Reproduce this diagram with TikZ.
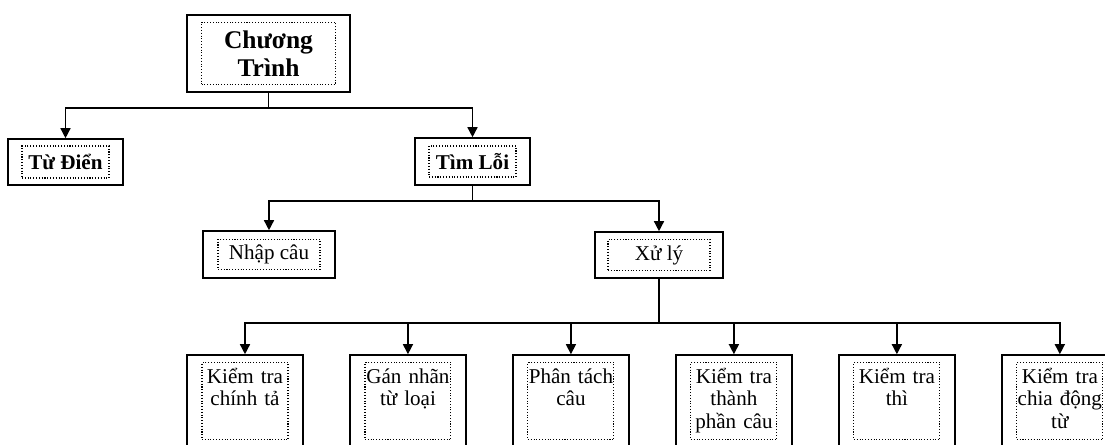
\documentclass[tikz,border=0pt]{standalone}
\usepackage{fontspec}
\setmainfont{Liberation Serif}
\usetikzlibrary{positioning}
\usetikzlibrary{arrows.meta}

\begin{document}
\begin{tikzpicture}[x=0.02cm, y=-0.02cm, line width=0.8pt,
        every node/.style = {font=\fontsize{12}{12.8}\selectfont, inner sep=0pt},
        outer/.style = {draw, line width=0.9pt},
        inner/.style = {draw, densely dotted, line width=0.6pt},
        head/.style = {font=\bfseries\fontsize{12}{14}\selectfont},
        leaf/.style = {outer, minimum width=2.32cm, minimum height=2cm, node distance=3.26cm},
        leaftext/.style = {inner, text width=1.72cm, align=center, text height=0.41cm, text depth=1.13cm},
        >={Triangle[length=0.2cm, width=0.2cm]}
        ]
        \clip (0,0) rectangle (1105,445);
        % level 0 and 1
        \node[outer, minimum width=3.26cm, minimum height=1.54cm] (1) at (268.5,53.5) {};
        \node[inner, align=center, minimum width=2.68cm, minimum height=1.24cm,
              font=\bfseries\fontsize{14.5}{16}\selectfont] (1t) at (1) {Chương\\Trình};
        \node[outer, minimum width=2.3cm, minimum height=0.92cm] (2) at (65.5,162) {};
        \node[inner, head, minimum width=1.74cm, minimum height=0.64cm] (2t) at (2) {Từ Điển};
        \node[outer, minimum width=2.3cm, minimum height=0.94cm] (3) at (472.5,161.5) {};
        \node[inner, head, minimum width=1.74cm, minimum height=0.62cm] (3t) at (3) {Tìm Lỗi};
        % level 2
        \node[outer, minimum width=2.64cm, minimum height=0.94cm] (4) at (269,254.5) {};
        \node[inner, minimum width=2.04cm, minimum height=0.6cm] (4t) at (4) {Nhập câu};
        \node[outer, minimum width=2.56cm, minimum height=0.92cm] (5) at (659,255) {};
        \node[inner, minimum width=2.04cm, minimum height=0.62cm] (5t) at (5) {Xử lý};
        % level 3
        \node[leaf] (6) at (245,405) {};
        \node[leaf] (7) [right of=6] {};
        \node[leaf] (8) [right of=7] {};
        \node[leaf] (9) [right of=8] {};
        \node[leaf] (10) [right of=9] {};
        \node[leaf] (11) [right of=10] {};
        \node[leaftext] (6t) [below=0.16cm of 6.north] {Kiểm tra\\chính tả};
        \node[leaftext] (7t) [below=0.16cm of 7.north] {Gán nhãn\\từ loại};
        \node[leaftext] (8t) [below=0.16cm of 8.north] {Phân tách\\câu};
        \node[leaftext] (9t) [below=0.16cm of 9.north] {Kiểm tra\\thành\\phần câu};
        \node[leaftext] (10t) [below=0.16cm of 10.north] {Kiểm tra\\thì};
        \node[leaftext] (11t) [below=0.16cm of 11.north] {Kiểm tra\\chia động\\từ};
        % connectors
        \coordinate (b1) at (268.5,108);
        \coordinate (b2) at (472.5,201);
        \coordinate (b3) at (659,323);
        \draw (1.south) -- (b1);
        \draw[->] (b1) -| (2.north);
        \draw[->] (b1) -| (3.north);
        \draw (3.south) -- (b2);
        \draw[->] (b2) -| (4.north);
        \draw[->] (b2) -| (5.north);
        \draw (5.south) -- (b3);
        \draw[->] (b3) -| (6.north);
        \draw[->] (b3) -| (7.north);
        \draw[->] (b3) -| (8.north);
        \draw[->] (b3) -| (9.north);
        \draw[->] (b3) -| (10.north);
        \draw[->] (b3) -| (11.north);
\end{tikzpicture}
\end{document}
